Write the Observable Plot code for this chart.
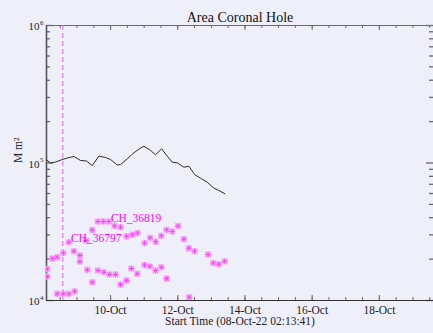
<!DOCTYPE html>
<html>
<head>
<meta charset="utf-8">
<script src="https://cdn.jsdelivr.net/npm/d3@7"></script>
<script src="https://cdn.jsdelivr.net/npm/@observablehq/plot@0.6"></script>
<style>
  html, body { margin: 0; padding: 0; background: #efeffa; }
  #chart svg { display: block; }
</style>
</head>
<body>
<div id="chart"></div>
<script>
// ---------- data ----------
const startTime = "2022-10-08T02:13:41Z";
const endTime = "2022-10-19T14:40:00Z";

// total coronal-hole area (black line)
const totalTimes = [
  "2022-10-08T02:18Z","2022-10-08T05:10Z","2022-10-08T08:44Z","2022-10-08T13:30Z","2022-10-08T17:05Z",
  "2022-10-08T21:48Z","2022-10-09T02:35Z","2022-10-09T06:52Z","2022-10-09T10:56Z","2022-10-09T15:40Z",
  "2022-10-09T20:26Z","2022-10-10T00:00Z","2022-10-10T04:48Z","2022-10-10T07:10Z","2022-10-10T11:56Z",
  "2022-10-10T16:40Z","2022-10-10T20:22Z","2022-10-10T23:48Z","2022-10-11T04:36Z","2022-10-11T08:10Z",
  "2022-10-11T12:27Z","2022-10-11T16:30Z","2022-10-11T20:05Z","2022-10-11T23:40Z","2022-10-12T04:22Z",
  "2022-10-12T07:56Z","2022-10-12T12:14Z","2022-10-12T16:18Z","2022-10-12T21:05Z","2022-10-13T01:48Z",
  "2022-10-13T05:22Z","2022-10-13T09:40Z"
];
const totalArea = [
  105200, 100000, 101700, 106000, 108700,
  111500, 104300, 103400, 95900, 112400,
  109600, 106000, 96700, 97500, 107300,
  118600, 126400, 132500, 123300, 114700,
  126900, 112100, 101300, 100300, 93200,
  94800, 82100, 77500, 72500, 65600,
  63100, 59700
];

// CH_36797 (magenta asterisks)
const ch36797Times = [
  "2022-10-08T18:14Z","2022-10-08T21:48Z","2022-10-09T02:05Z","2022-10-09T02:05Z","2022-10-09T07:22Z",
  "2022-10-09T10:56Z","2022-10-09T14:57Z","2022-10-09T19:14Z","2022-10-09T23:18Z","2022-10-10T03:35Z",
  "2022-10-10T07:10Z","2022-10-10T11:26Z","2022-10-10T14:48Z","2022-10-10T19:05Z","2022-10-11T00:18Z",
  "2022-10-11T04:05Z","2022-10-11T08:10Z","2022-10-11T12:14Z","2022-10-11T16:01Z","2022-10-12T08:14Z"
];
const ch36797Area = [
  26550, 22830, 21250, 19210, 16720,
  13590, 16530, 16060, 15460, 15460,
  13070, 13980, 17090, 15640, 18120,
  17730, 16530, 17470, 14450, 10570
];

// CH_36819 (magenta asterisks)
const ch36819Times = [
  "2022-10-09T10:56Z","2022-10-09T14:57Z","2022-10-09T18:48Z","2022-10-09T22:48Z","2022-10-10T02:52Z",
  "2022-10-10T07:10Z","2022-10-10T11:26Z","2022-10-10T15:31Z","2022-10-10T19:18Z","2022-10-11T00:18Z",
  "2022-10-11T04:18Z","2022-10-11T08:10Z","2022-10-11T12:14Z","2022-10-11T16:01Z","2022-10-11T20:05Z",
  "2022-10-12T00:14Z","2022-10-12T04:22Z","2022-10-12T07:56Z","2022-10-12T12:00Z","2022-10-12T21:40Z",
  "2022-10-13T01:22Z","2022-10-13T05:22Z","2022-10-13T09:35Z"
];
const ch36819Area = [
  32560, 37540, 37540, 37540, 34940,
  34130, 29350, 30100, 30970, 26190,
  28580, 26730, 29550, 32670, 31760,
  34820, 27920, 24010, 22830, 21610,
  18740, 18370, 19280
];

// other (unlabelled) coronal holes
const otherTimes = [
  "2022-10-08T02:44Z","2022-10-08T02:44Z","2022-10-08T06:22Z","2022-10-08T09:56Z","2022-10-08T14:14Z",
  "2022-10-08T09:56Z","2022-10-08T14:14Z","2022-10-08T18:14Z","2022-10-08T22:18Z","2022-10-09T06:31Z"
];
const otherArea = [
  16950, 14940, 20210, 20650, 22150,
  11190, 11190, 11190, 11660, 27310
];

// dashed reference time
const markerTimes = ["2022-10-08T13:56Z"];

// region labels
const labelNames = ["CH_36797", "CH_36819"];
const labelTimes = ["2022-10-08T18:14Z", "2022-10-09T22:48Z"];
const labelArea = [26550, 37540];

// axes
const xTickDays = [10, 12, 14, 16, 18];
const xTickLabels = ["10-Oct", "12-Oct", "14-Oct", "16-Oct", "18-Oct"];
const yTickValues = [1e4, 1e5, 1e6];
const yTickExponents = ["4", "5", "6"];
const yMinorMantissas = [2, 3, 4, 5, 6, 7, 8, 9];

const titleText = "Area Coronal Hole";
const xLabelText = "Start Time (08-Oct-22 02:13:41)";
const yLabelText = "M m\u00B2";

// ---------- build ----------
const W = 433, H = 333;
const mL = 46, mR = 0, mT = 25, mB = 33;
const FW = W - mL - mR, FH = H - mT - mB;
const serif = "'Liberation Serif', 'Times New Roman', serif";
const axisCol = "#6a6a6a";
const magenta = "#ff00ff";

const T = s => new Date(s);
const totalRows = totalTimes.map((t, i) => ({t: T(t), v: totalArea[i]}));
const chRows = [
  ...ch36797Times.map((t, i) => ({t: T(t), v: ch36797Area[i]})),
  ...ch36819Times.map((t, i) => ({t: T(t), v: ch36819Area[i]})),
  ...otherTimes.map((t, i) => ({t: T(t), v: otherArea[i]}))
];
const labelRows = labelNames.map((n, i) => ({t: T(labelTimes[i]), v: labelArea[i], name: n}));
const xMajor = xTickDays.map(d => new Date(Date.UTC(2022, 9, d)));
const xMinor = d3.utcHour.every(12).range(T(startTime), T(endTime));
const yMinor = [1e4, 1e5].flatMap(b => yMinorMantissas.map(m => m * b));
const yTickRows = yTickValues.map((v, i) => ({v, e: yTickExponents[i]}));

// IDL-style asterisk: "+" and "x" overlaid
const asterisk8 = {
  draw(ctx, size) {
    const r = Math.sqrt(size / Math.PI);
    const d = r * 0.75;
    ctx.moveTo(-r, 0); ctx.lineTo(r, 0);
    ctx.moveTo(0, -r); ctx.lineTo(0, r);
    ctx.moveTo(-d, -d); ctx.lineTo(d, d);
    ctx.moveTo(-d, d); ctx.lineTo(d, -d);
  }
};

const chart = Plot.plot({
  width: W,
  height: H,
  marginLeft: mL,
  marginRight: mR,
  marginTop: mT,
  marginBottom: mB,
  style: {background: "#efeffa", fontFamily: serif},
  x: {type: "utc", domain: [T(startTime), T(endTime)], axis: null},
  y: {type: "log", domain: [1e4, 1e6], axis: null},
  marks: [
    // ticks (inward, IDL style) on all four sides
    Plot.tickX(xMajor, {x: d => d, insetTop: FH - 5, stroke: axisCol}),
    Plot.tickX(xMajor, {x: d => d, insetBottom: FH - 5, stroke: axisCol}),
    Plot.tickX(xMinor, {x: d => d, insetTop: FH - 3, stroke: axisCol}),
    Plot.tickX(xMinor, {x: d => d, insetBottom: FH - 3, stroke: axisCol}),
    Plot.tickY(yTickValues, {y: d => d, insetRight: FW - 7, stroke: axisCol, strokeWidth: 1.3}),
    Plot.tickY(yTickValues, {y: d => d, insetLeft: FW - 7, stroke: axisCol, strokeWidth: 1.3}),
    Plot.tickY(yMinor, {y: d => d, insetRight: FW - 4, stroke: axisCol, strokeWidth: 1.3}),
    Plot.tickY(yMinor, {y: d => d, insetLeft: FW - 4, stroke: axisCol, strokeWidth: 1.3}),
    Plot.frame({stroke: axisCol, strokeWidth: 1}),
    Plot.ruleY([1e4], {stroke: "#333", strokeWidth: 1}),
    Plot.ruleX([T(startTime)], {stroke: "#555", strokeWidth: 1.6}),

    // dashed vertical marker
    Plot.ruleX(markerTimes.map(T), {stroke: "#ff55ff", strokeWidth: 1, strokeDasharray: "5,3"}),

    // total area line
    Plot.line(totalRows, {x: "t", y: "v", stroke: "#2a2a2a", strokeWidth: 1}),

    // magenta asterisks with soft halo
    Plot.dot(chRows, {x: "t", y: "v", symbol: "square", r: 3.6, fill: "#f6c4f6", stroke: "none", clip: true}),
    Plot.dot(chRows, {x: "t", y: "v", symbol: asterisk8, r: 3.0, fill: "none", stroke: "#f23af2", strokeWidth: 0.75, clip: true}),

    // labels
    Plot.text(labelRows, {x: "t", y: "v", text: "name", textAnchor: "start", lineAnchor: "bottom",
      dx: 2, dy: 0, fill: magenta, fontSize: 11.5, fontFamily: serif}),

    // x tick labels
    Plot.text(xMajor, {x: d => d, frameAnchor: "bottom", text: (d, i) => xTickLabels[i],
      dy: 13, fontSize: 11.5, fill: "#222", fontFamily: serif}),
    // y tick labels 10^n
    Plot.text(yTickRows, {y: "v", frameAnchor: "left", text: () => "10", textAnchor: "end",
      dx: -7, dy: 1, fontSize: 11, fill: "#222", fontFamily: serif}),
    Plot.text(yTickRows, {y: "v", frameAnchor: "left", text: "e", textAnchor: "start",
      dx: -6.5, dy: -3, fontSize: 7, fill: "#222", fontFamily: serif}),

    // titles
    Plot.text([titleText], {frameAnchor: "top", text: d => d, dy: -13, fontSize: 14, fill: "#111", fontFamily: serif}),
    Plot.text([xLabelText], {frameAnchor: "bottom", text: d => d, dy: 24, fontSize: 11.5, fill: "#222", fontFamily: serif}),
    Plot.text([yLabelText], {frameAnchor: "left", text: d => d, rotate: -90, dx: -28, fontSize: 11.5, fill: "#222", fontFamily: serif})
  ]
});

document.getElementById("chart").appendChild(chart);
</script>
</body>
</html>
